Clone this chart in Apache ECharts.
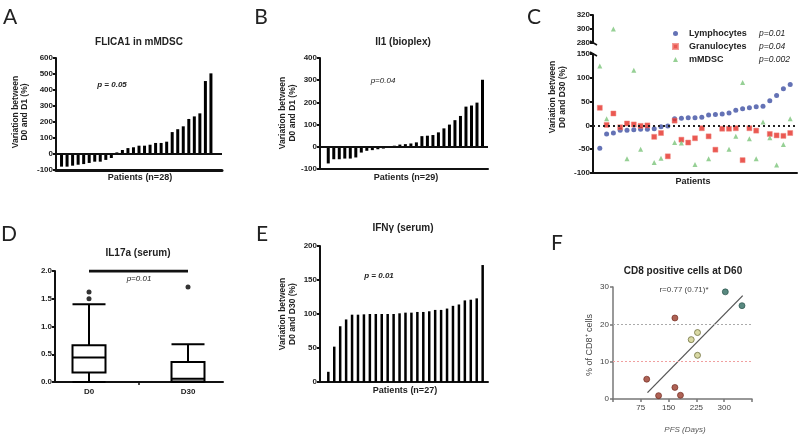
<!DOCTYPE html>
<html><head><meta charset="utf-8">
<script src="https://cdn.jsdelivr.net/npm/echarts@6.0.0/dist/echarts.min.js"></script>
<style>html,body{margin:0;padding:0;background:#fff}#c{width:800px;height:435px}</style>
</head><body><div id="c"></div>
<script>
// ---- Data ----
const flicaValues = [-79,-79,-73,-67,-63,-56,-48,-48,-37,-25,10,25,37,42,52,52,58,69,69,77,137,155,173,219,235,254,456,504];
const il1Values = [-75,-56,-56,-53,-53,-48,-26,-18,-15,-11,-8,-2,5,10,12,15,20,48,50,53,65,83,100,120,139,181,186,199,302];
const lymphocytes = [-48,-18,-16,-10,-10,-9,-8,-8,-7,-3,-1,14,15,16,16,17,22,23,24,26,32,35,37,39,40,52,63,77,86];
const granulocytes = [37,1,25,-4,4,2,-1,0,-24,-16,-65,10,-30,-36,-27,-6,-23,-51,-7,-7,-6,-73,-6,-11,null,-18,-21,-22,-16];
const mmdsc = [125,14,300,null,-70,116,-50,null,-78,-69,null,-36,-37,null,-82,null,-70,null,null,-50,-23,90,-28,-70,7,-26,-83,-40,14];
const cellPValues = {Lymphocytes:'p=0.01', Granulocytes:'p=0.04', mMDSC:'p=0.002'};
const il17Days = ['D0','D30'];
const il17Boxes = [[0.0,0.17,0.44,0.66,1.40],[0.0,0.01,0.06,0.36,0.68]];
const il17Outliers = [['D0',1.62],['D0',1.50],['D30',1.71]];
const ifngValues = [15,52,82,92,99,99,99.5,100,100,100,100,100,101,102,102,103,103,104,106,106,108,112,114,120,121,123,172];
const pfsLow = [91,123,167,167,182];   const cd8Low = [5.3,0.9,21.7,3.1,1.0];
const pfsMid = [211,228,228];          const cd8Mid = [15.9,17.8,11.7];
const pfsHigh = [303,348];             const cd8High = [28.7,25.0];
const fitPfs = [93,350];               const fitCd8 = [1.7,27.7];

// ---- helpers ----
const F = '"Liberation Sans", Arial, sans-serif';
const BLACK = '#111';
function yAx(g, min, max, interval, extra) {
  return Object.assign({
    type:'value', gridIndex:g, min, max, interval,
    axisLine:{show:true, onZero:false, lineStyle:{color:BLACK, width:2}},
    axisTick:{show:true, length:3, lineStyle:{color:BLACK, width:2}},
    axisLabel:{fontFamily:F, fontWeight:'bold', fontSize:8, color:'#222', margin:3},
    splitLine:{show:false}
  }, extra || {});
}
function xHidden(g, min, max, extra) {
  return Object.assign({
    type:'value', gridIndex:g, min, max, position:'bottom',
    axisLine:{show:true, onZero:false, lineStyle:{color:BLACK, width:2}},
    axisTick:{show:false}, axisLabel:{show:false}, splitLine:{show:false}
  }, extra || {});
}
function baseLines(bottom) {
  return {silent:true, symbol:'none', label:{show:false},
    data:[{yAxis:0},{yAxis:bottom}], lineStyle:{color:BLACK, width:2, type:'solid'}};
}
function bars(g, vals, w) {
  return {type:'bar', xAxisIndex:g, yAxisIndex:g, barWidth:w, data: vals.map((v,i)=>[i+1, v]),
    itemStyle:{color:'#000'}, silent:true, animation:false};
}
function T(x, y, s, o, rot) {
  const st = Object.assign({text:s, fontFamily:F, fontSize:9, fontWeight:'bold', fill:'#222',
    align:'center', verticalAlign:'middle', textAlign:'center', textVerticalAlign:'middle'}, o || {});
  const e = {type:'text', x, y, style:st, silent:true};
  if (rot) e.rotation = rot;
  return e;
}
const lowPart = a => a.map((v,i)=>[i+1, (v!==null && v<=150) ? v : null]);
const highPart = a => a.map((v,i)=>[i+1, (v!==null && v>150) ? v : null]);

const LYM = '#3d4fa3', GRA = '#e52e27', MDS = '#7cc47a';
const LETTER = {fontFamily:'Lato, "Open Sans", sans-serif', fontWeight:'normal', fontSize:21, fill:'#222'};

const option = {
  animation:false,
  backgroundColor:'#fff',
  grid:[
    {left:56, top:58, width:166, height:112},   // A
    {left:320, top:58, width:168, height:111},  // B
    {left:593, top:15, width:204, height:28},   // C upper
    {left:593, top:54, width:204, height:119},  // C lower
    {left:55, top:271, width:168, height:111},  // D outer
    {left:39.5, top:271, width:198, height:111},// D inner
    {left:320, top:246, width:168, height:136}, // E
    {left:613, top:287, width:139, height:112}  // F
  ],
  xAxis:[
    xHidden(0, 0, 30, {axisLine:{show:true, onZero:false, lineStyle:{color:BLACK, width:3}}}),
    xHidden(1, -0.5, 30),
    xHidden(2, 0, 30, {axisLine:{show:false}}),
    xHidden(3, 0, 30),
    {type:'value', gridIndex:4, min:0, max:2, interval:1, position:'bottom',
      axisLine:{show:true, onZero:false, lineStyle:{color:BLACK, width:2}},
      axisTick:{show:true, length:3, customValues:[1], lineStyle:{color:BLACK, width:1.5}},
      axisLabel:{show:false}, splitLine:{show:false}},
    {type:'category', gridIndex:5, data:il17Days,
      axisLine:{show:false}, axisTick:{show:false},
      axisLabel:{fontFamily:F, fontWeight:'bold', fontSize:8, color:'#222', margin:6}},
    xHidden(6, -0.4, 27.9),
    {type:'value', gridIndex:7, min:0, max:375, interval:75, position:'bottom',
      axisLine:{show:true, onZero:false, lineStyle:{color:'#777', width:1.5}},
      axisTick:{show:true, length:3, lineStyle:{color:'#777', width:1.5}},
      axisLabel:{fontFamily:F, fontSize:8, color:'#444', margin:5,
        formatter: v => (v===0 || v===375) ? '' : String(v)},
      splitLine:{show:false}}
  ],
  yAxis:[
    yAx(0, -100, 600, 100),
    yAx(1, -100, 400, 100),
    yAx(2, 280, 320, 20),
    yAx(3, -100, 150, 50),
    yAx(4, 0, 2, 0.5, {axisLabel:{fontFamily:F, fontWeight:'bold', fontSize:8, color:'#222', margin:3, formatter:v=>v.toFixed(1)}}),
    {type:'value', gridIndex:5, min:0, max:2, show:false},
    yAx(6, 0, 200, 50),
    yAx(7, 0, 30, 10, {axisLine:{show:true, onZero:false, lineStyle:{color:'#777', width:1.5}},
      axisTick:{show:true, length:3, lineStyle:{color:'#777', width:1.5}},
      axisLabel:{fontFamily:F, fontSize:8, color:'#444', margin:4}})
  ],
  legend:{
    left:667, top:24, orient:'vertical', itemGap:4, itemWidth:5, itemHeight:5,
    data:[{name:'Lymphocytes', icon:'circle'},{name:'Granulocytes', icon:'rect'},{name:'mMDSC', icon:'triangle'}],
    formatter: n => '{n|' + n + '}{p|' + cellPValues[n] + '}',
    textStyle:{rich:{
      n:{fontFamily:F, fontWeight:'bold', fontSize:9, color:'#222', width:70, padding:[0,0,0,6], lineHeight:11},
      p:{fontFamily:F, fontStyle:'italic', fontSize:8.5, color:'#222', lineHeight:11}
    }},
    selectedMode:false
  },
  series:[
    Object.assign(bars(0, flicaValues, 3), {markLine:baseLines(-100)}),
    Object.assign(bars(1, il1Values, 3), {markLine:baseLines(-100)}),
    {type:'scatter', name:'Lymphocytes', xAxisIndex:3, yAxisIndex:3, symbol:'circle', symbolSize:5,
      itemStyle:{color:LYM}, data: lowPart(lymphocytes),
      markLine:{silent:true, symbol:'none', label:{show:false}, data:[{yAxis:0}], lineStyle:{color:'#222', width:2, type:[2,3]}}},
    {type:'scatter', name:'Granulocytes', xAxisIndex:3, yAxisIndex:3, symbol:'rect', symbolSize:5,
      itemStyle:{color:GRA, borderColor:'#f0827b', borderWidth:0.6}, data: lowPart(granulocytes)},
    {type:'scatter', name:'mMDSC', xAxisIndex:3, yAxisIndex:3, symbol:'triangle', symbolSize:5,
      itemStyle:{color:MDS}, data: lowPart(mmdsc)},
    {type:'scatter', name:'Lymphocytes', xAxisIndex:2, yAxisIndex:2, symbol:'circle', symbolSize:5, itemStyle:{color:LYM}, data: highPart(lymphocytes)},
    {type:'scatter', name:'Granulocytes', xAxisIndex:2, yAxisIndex:2, symbol:'rect', symbolSize:5, itemStyle:{color:GRA}, data: highPart(granulocytes)},
    {type:'scatter', name:'mMDSC', xAxisIndex:2, yAxisIndex:2, symbol:'triangle', symbolSize:5, itemStyle:{color:MDS}, data: highPart(mmdsc)},
    {type:'boxplot', xAxisIndex:5, yAxisIndex:5, data: il17Boxes, boxWidth:[33,33],
      itemStyle:{color:'#fff', borderColor:'#000', borderWidth:2}, silent:true},
    {type:'scatter', xAxisIndex:5, yAxisIndex:5, data: il17Outliers, symbol:'circle', symbolSize:5, itemStyle:{color:'#000'}, silent:true},
    {type:'line', xAxisIndex:5, yAxisIndex:5, data:[['D0',2.0],['D30',2.0]], symbol:'none', lineStyle:{color:'#111', width:3}, silent:true},
    bars(6, ifngValues, 2.5),
    {type:'line', xAxisIndex:7, yAxisIndex:7, data: fitPfs.map((x,i)=>[x, fitCd8[i]]), symbol:'none',
      lineStyle:{color:'#555', width:1.3}, silent:true,
      markLine:{silent:true, symbol:'none', label:{show:false},
        data:[{yAxis:20, lineStyle:{color:'#aaa', type:[2,2], width:1}}, {yAxis:10, lineStyle:{color:'#f0a0a0', type:[2,2], width:1}}]}},
    {type:'scatter', xAxisIndex:7, yAxisIndex:7, data: pfsLow.map((x,i)=>[x, cd8Low[i]]), symbolSize:6,
      itemStyle:{color:'#9a3b2a', borderColor:'#6b2318', borderWidth:0.8}, silent:true},
    {type:'scatter', xAxisIndex:7, yAxisIndex:7, data: pfsMid.map((x,i)=>[x, cd8Mid[i]]), symbolSize:6,
      itemStyle:{color:'#cfcf8e', borderColor:'#6f7040', borderWidth:1}, silent:true},
    {type:'scatter', xAxisIndex:7, yAxisIndex:7, data: pfsHigh.map((x,i)=>[x, cd8High[i]]), symbolSize:6,
      itemStyle:{color:'#2f6b60', borderColor:'#1f4a42', borderWidth:0.8}, silent:true}
  ],
  graphic:[
    T(10, 17, 'A', LETTER),
    T(261, 17, 'B', LETTER),
    T(534, 17, 'C', LETTER),
    T(9, 234, 'D', LETTER),
    T(262, 234, 'E', LETTER),
    T(557, 243, 'F', LETTER),
    T(139, 42, 'FLICA1 in mMDSC', {fontSize:10}),
    T(403, 42, 'Il1 (bioplex)', {fontSize:10}),
    T(138, 253, 'IL17a (serum)', {fontSize:10}),
    T(403, 228, 'IFNγ (serum)', {fontSize:10}),
    T(683, 271, 'CD8 positive cells at D60', {fontSize:10}),
    T(140, 178, 'Patients (n=28)', {fontSize:9}),
    T(406, 178, 'Patients (n=29)', {fontSize:9}),
    T(693, 182, 'Patients', {fontSize:9}),
    T(405, 391, 'Patients (n=27)', {fontSize:9}),
    T(685, 430, 'PFS (Days)', {fontSize:8, fontWeight:'normal', fontStyle:'italic', fill:'#555'}),
    T(20, 112, 'Variation between\nD0 and D1 (%)', {fontSize:8.5, lineHeight:9.5}, Math.PI/2),
    T(287.5, 113, 'Variation between\nD0 and D1 (%)', {fontSize:8.5, lineHeight:9.5}, Math.PI/2),
    T(558, 97, 'Variation between\nD0 and D30 (%)', {fontSize:8.5, lineHeight:10}, Math.PI/2),
    T(287.5, 314, 'Variation between\nD0 and D30 (%)', {fontSize:8.5, lineHeight:9.5}, Math.PI/2),
    T(590, 345, '% of CD8⁺ cells', {fontSize:9, fontWeight:'normal', fill:'#444'}, Math.PI/2),
    T(112, 85, 'p = 0.05', {fontSize:8, fontStyle:'italic'}),
    T(383, 81, 'p=0.04', {fontSize:8, fontStyle:'italic', fontWeight:'normal'}),
    T(139, 279, 'p=0.01', {fontSize:8, fontStyle:'italic', fontWeight:'normal'}),
    T(379, 276, 'p = 0.01', {fontSize:8, fontStyle:'italic'}),
    T(684, 290, 'r=0.77 (0.71)*', {fontSize:8, fontWeight:'normal', fill:'#444'}),
    {type:'line', shape:{x1:590, y1:41, x2:597, y2:45}, style:{stroke:'#111', lineWidth:1.5}, silent:true},
    {type:'line', shape:{x1:590, y1:52, x2:597, y2:56}, style:{stroke:'#111', lineWidth:1.5}, silent:true}
  ]
};
echarts.init(document.getElementById('c'), null, {renderer:'canvas'}).setOption(option);
</script>
</body></html>
